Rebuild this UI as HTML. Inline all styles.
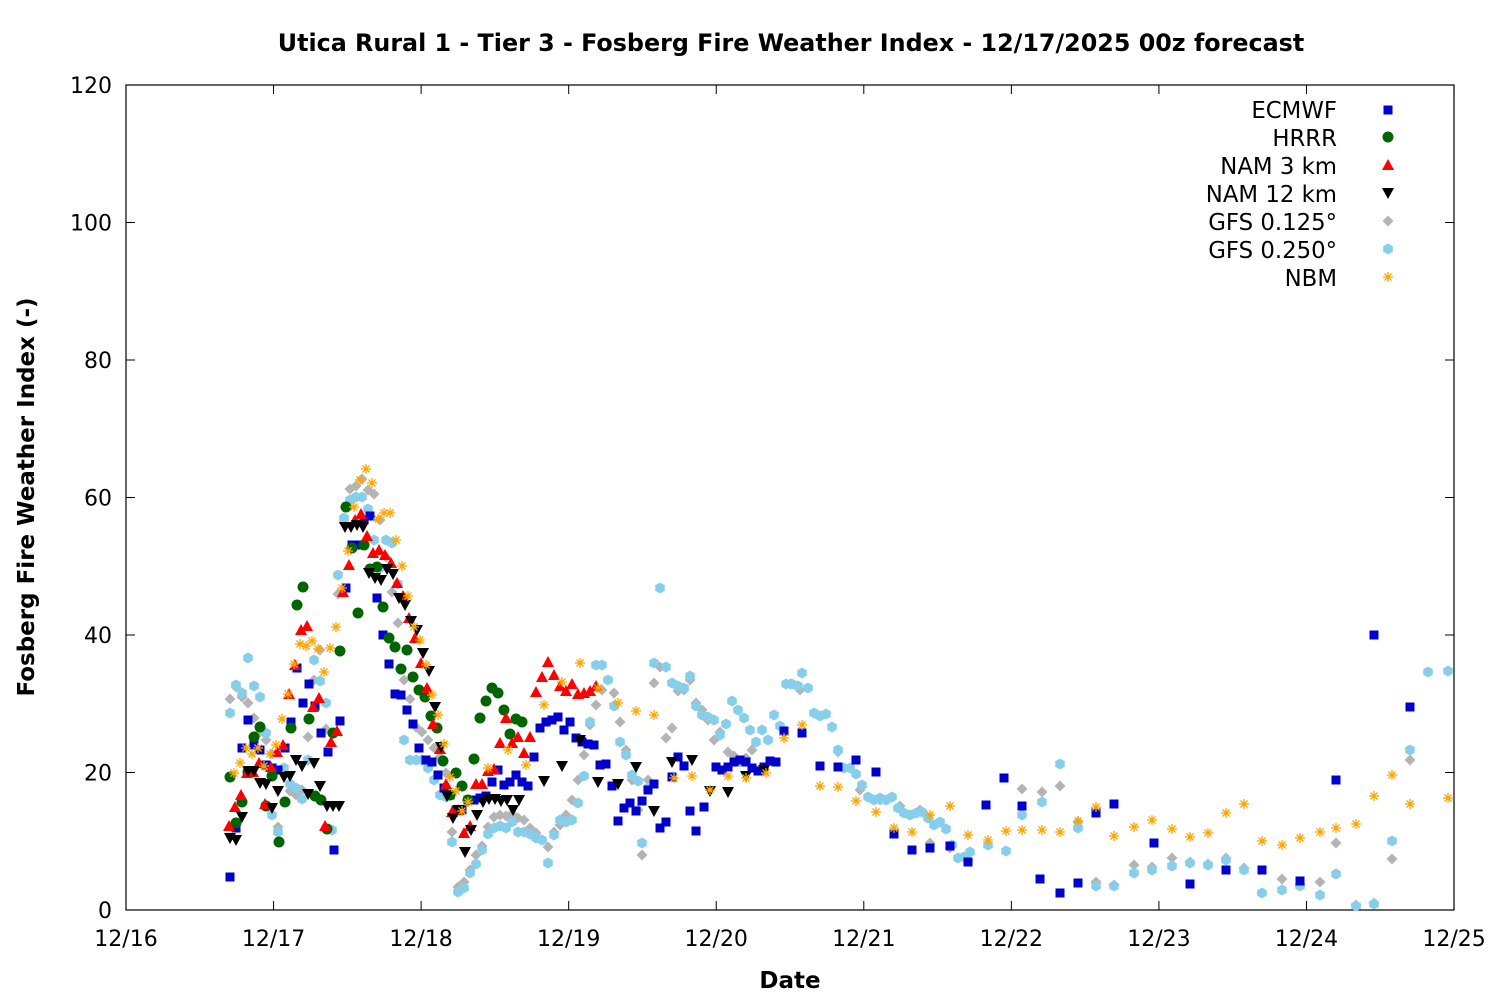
<!DOCTYPE html>
<html><head><meta charset="utf-8"><style>
html,body{margin:0;padding:0;background:#fff;}
svg text{font-family:"DejaVu Sans","Liberation Sans",sans-serif;}
</style></head><body>
<svg id="s" width="1500" height="1000" xmlns="http://www.w3.org/2000/svg">
<rect width="1500" height="1000" fill="#fff"/>
<text x="791" y="51" text-anchor="middle" font-size="23.8" font-weight="bold">Utica Rural 1 - Tier 3 - Fosberg Fire Weather Index - 12/17/2025 00z forecast</text>
<g id="grid" font-size="22"></g>
<rect x="126" y="85" width="1328" height="825" fill="none" stroke="#000" stroke-width="1.2"/>
<text x="790" y="988" text-anchor="middle" font-size="23" font-weight="bold">Date</text>
<text transform="translate(34,497) rotate(-90)" text-anchor="middle" font-size="23" font-weight="bold">Fosberg Fire Weather Index (-)</text>
<g id="pts"></g>
<g font-size="22.8" text-anchor="end">
<text x="1337" y="118">ECMWF</text>
<text x="1337" y="146">HRRR</text>
<text x="1337" y="174">NAM 3 km</text>
<text x="1337" y="202">NAM 12 km</text>
<text x="1337" y="230">GFS 0.125°</text>
<text x="1337" y="258">GFS 0.250°</text>
<text x="1337" y="286">NBM</text>
</g>
</svg>
<script>
var NS="http://www.w3.org/2000/svg";
function el(p,t,a){var e=document.createElementNS(NS,t);for(var k in a)e.setAttribute(k,a[k]);p.appendChild(e);return e;}
var g=document.getElementById("grid");
for(var v=0;v<=120;v+=20){var y=910-v*6.875;
el(g,"line",{x1:126,x2:135,y1:y,y2:y,stroke:"#000"});el(g,"line",{x1:1445,x2:1454,y1:y,y2:y,stroke:"#000"});
var t=el(g,"text",{x:112,y:y+8,"text-anchor":"end"});t.textContent=v;}
var days=["12/16","12/17","12/18","12/19","12/20","12/21","12/22","12/23","12/24","12/25"];
for(var i=0;i<10;i++){var x=126+i*147.56;
el(g,"line",{x1:x,x2:x,y1:910,y2:901,stroke:"#000"});el(g,"line",{x1:x,x2:x,y1:85,y2:94,stroke:"#000"});
var t=el(g,"text",{x:x,y:946,"text-anchor":"middle"});t.textContent=days[i];}
var P=document.getElementById("pts");
function mk(x,y,s){
if(s==0)el(P,"rect",{x:x-4.5,y:y-4.5,width:9,height:9,fill:"#0000cc"});
else if(s==1)el(P,"circle",{cx:x,cy:y,r:5.5,fill:"#006400"});
else if(s==2)el(P,"polygon",{points:(x)+","+(y-6)+" "+(x-6)+","+(y+5)+" "+(x+6)+","+(y+5),fill:"#ff0000"});
else if(s==3)el(P,"polygon",{points:(x)+","+(y+6)+" "+(x-6)+","+(y-5)+" "+(x+6)+","+(y-5),fill:"#000"});
else if(s==4)el(P,"polygon",{points:x+","+(y-5.5)+" "+(x+5.5)+","+y+" "+x+","+(y+5.5)+" "+(x-5.5)+","+y,fill:"#b4b4b4"});
else if(s==5){var p=[];for(var k=0;k<6;k++){var a=Math.PI/3*k+Math.PI/6;p.push((x+5.5*Math.cos(a))+","+(y+5.5*Math.sin(a)));}el(P,"polygon",{points:p.join(" "),fill:"#87ceeb"});}
else {var c="#ffa500";el(P,"line",{x1:x-5,x2:x+5,y1:y,y2:y,stroke:c,"stroke-width":1.3});el(P,"line",{x1:x,x2:x,y1:y-5,y2:y+5,stroke:c,"stroke-width":1.3});el(P,"line",{x1:x-3.5,x2:x+3.5,y1:y-3.5,y2:y+3.5,stroke:c,"stroke-width":1.3});el(P,"line",{x1:x-3.5,x2:x+3.5,y1:y+3.5,y2:y-3.5,stroke:c,"stroke-width":1.3});}
}
function add(s,str){var a=str.split(",").map(Number);for(var i=0;i<a.length;i+=2)mk(a[i],a[i+1],s);}
var D=[];
D[4]="230,699,236,687,242,697,248,703,254,718,260,732,266,740,272,754,278,827,284,773,290,791,296,795,302,790,308,737,314,680,320,650,326,729,332,733,338,594,344,523,350,489,356,486,362,479,368,490,374,494,380,520,386,557,392,592,398,623,404,680,410,699,416,727,422,732,428,740,434,748,440,757,446,773,452,832,458,887,464,882,470,870,476,855,482,846,488,827,494,817,500,815,506,816,512,814,518,818,524,820,530,828,536,833,542,840,548,847,554,832,560,825,566,815,572,800,578,780,584,755,590,725,596,705,602,690,608,680,614,693,620,722,626,750,632,780,638,810,642,855,648,780,654,683,660,667,666,738,672,728,678,691,684,690,690,680,696,703,702,710,708,720,714,740,720,732,728,752,734,756,740,762,746,758,752,750,790,684,800,690,838,752,860,790,880,800,900,806,920,810,930,843,950,848,968,860,1022,789,1042,792,1060,786,1078,822,1096,882,1114,885,1134,865,1152,867,1172,858,1190,862,1208,864,1226,858,1244,868,1262,893,1282,879,1300,885,1320,882,1336,843,1356,905,1374,903,1392,859,1410,760";
D[5]="230,713,236,685,242,693,248,658,254,686,260,697,266,733,272,815,278,832,284,768,290,784,296,788,302,799,308,760,314,660,320,681,326,703,332,830,338,575,344,518,350,500,356,497,362,497,368,509,374,540,380,568,386,540,392,543,398,584,404,740,410,760,416,760,422,760,428,768,434,780,440,795,446,797,452,842,458,892,464,888,470,873,476,864,482,850,488,834,494,828,500,826,506,828,512,822,518,832,524,832,530,834,536,838,542,840,548,863,554,835,560,820,566,822,572,820,578,803,584,776,590,722,596,665,602,665,608,680,614,706,620,742,626,755,632,775,638,781,642,843,648,788,654,663,660,588,666,667,672,683,678,686,684,688,690,676,696,706,702,715,708,717,714,720,720,735,726,724,732,701,738,710,744,718,750,730,756,742,762,730,768,740,774,715,780,726,786,684,792,684,798,686,802,673,808,688,814,713,820,716,826,714,832,727,838,750,844,768,850,768,856,774,862,785,868,797,874,800,880,798,886,800,892,797,898,808,904,813,910,815,916,813,922,812,928,818,934,825,940,822,946,829,952,845,958,858,964,857,970,852,988,845,1006,851,1022,815,1042,802,1060,764,1078,828,1096,886,1114,886,1134,873,1152,870,1172,866,1190,863,1208,865,1226,860,1244,870,1262,893,1282,890,1300,886,1320,895,1336,874,1356,906,1374,904,1392,841,1410,750,1428,672,1448,671";
D[1]="230,777,236,823,242,802,248,772,254,737,260,727,266,806,272,776,279,842,285,802,291,728,297,605,303,587,309,719,315,796,321,800,327,829,333,733,340,651,346,507,352,548,358,613,364,545,370,569,377,567,383,607,389,638,395,647,401,669,407,650,413,677,419,690,425,697,431,716,437,728,443,761,450,795,456,773,462,786,468,800,474,759,480,718,486,701,492,688,498,693,504,710,510,734,516,719,522,722";
D[2]="229,826,235,807,241,795,247,773,253,772,259,763,265,804,271,767,277,752,283,745,289,694,295,665,301,630,307,626,313,707,319,698,325,826,331,742,337,731,343,592,349,565,355,520,361,514,367,536,373,553,379,550,385,555,391,563,397,583,403,596,409,618,415,638,421,663,427,688,433,724,440,749,446,784,452,812,458,810,464,833,470,826,476,784,482,784,488,771,494,769,500,743,506,718,512,743,518,737,524,753,530,737,536,692,542,677,548,662,554,675,560,686,566,691,572,684,578,694,584,693,590,691,596,686";
D[3]="230,838,236,840,242,817,248,771,254,771,260,783,266,784,272,808,278,791,284,777,290,776,296,760,302,766,308,794,314,763,320,786,327,806,333,806,339,806,345,527,351,527,357,525,363,527,369,573,375,578,381,580,387,569,393,574,399,598,405,605,411,621,417,630,423,653,429,671,435,707,441,747,447,796,453,818,459,810,465,852,471,830,477,815,483,802,489,799,495,799,501,801,507,800,513,810,519,800,544,781,562,766,580,740,598,782,618,784,636,767,654,811,672,762,692,760,710,791,728,792,746,776,764,770";
D[0]="230,877,236,828,242,748,248,720,254,745,260,750,266,765,272,768,278,770,285,748,291,722,297,668,303,703,309,684,315,706,321,733,328,752,334,850,340,721,346,588,352,545,358,545,364,520,370,516,377,598,383,635,389,664,395,694,401,695,407,710,413,724,419,748,426,760,432,762,438,775,444,788,450,795,456,810,462,810,468,800,474,800,480,798,486,796,492,782,498,770,504,785,510,782,516,775,522,782,528,786,534,757,540,728,546,722,552,720,558,717,564,730,570,722,576,738,582,742,588,744,594,745,600,765,606,764,612,786,618,821,624,808,630,803,636,811,642,801,648,790,654,784,660,828,666,822,672,777,678,757,684,766,690,811,696,831,704,807,716,767,722,770,728,767,734,762,740,760,746,762,752,768,758,771,764,767,770,761,776,762,784,731,802,733,820,766,838,767,856,760,876,772,894,834,912,850,930,848,950,846,968,862,986,805,1004,778,1022,806,1040,879,1060,893,1078,883,1096,813,1114,804,1154,843,1190,884,1226,870,1262,870,1300,881,1336,780,1374,635,1410,707";
D[6]="234,773,240,763,246,748,252,754,258,748,264,766,270,754,276,745,282,719,288,694,294,664,300,644,306,646,312,641,318,649,324,672,330,648,336,627,342,588,348,551,354,507,360,480,366,469,372,483,378,519,384,513,390,513,396,540,402,566,408,596,414,627,420,640,426,665,432,695,438,715,444,744,450,777,456,791,462,811,468,802,488,768,508,750,526,765,544,705,562,682,580,663,598,688,618,703,636,711,654,715,674,778,692,776,710,790,728,776,746,778,766,773,784,738,802,725,820,786,838,787,856,801,876,812,894,828,912,832,930,815,950,806,968,835,988,840,1006,831,1022,830,1042,830,1060,832,1078,821,1096,807,1114,836,1134,827,1152,820,1172,829,1190,837,1208,833,1226,813,1244,804,1262,841,1282,845,1300,838,1320,832,1336,828,1356,824,1374,796,1392,775,1410,804,1448,798";
[4,5,0,1,2,3,6].forEach(function(s){add(s,D[s]);});
mk(1388,110,0);mk(1388,137,1);mk(1388,165,2);mk(1388,193,3);mk(1388,221,4);mk(1388,249,5);mk(1388,277,6);
</script>
</body></html>
